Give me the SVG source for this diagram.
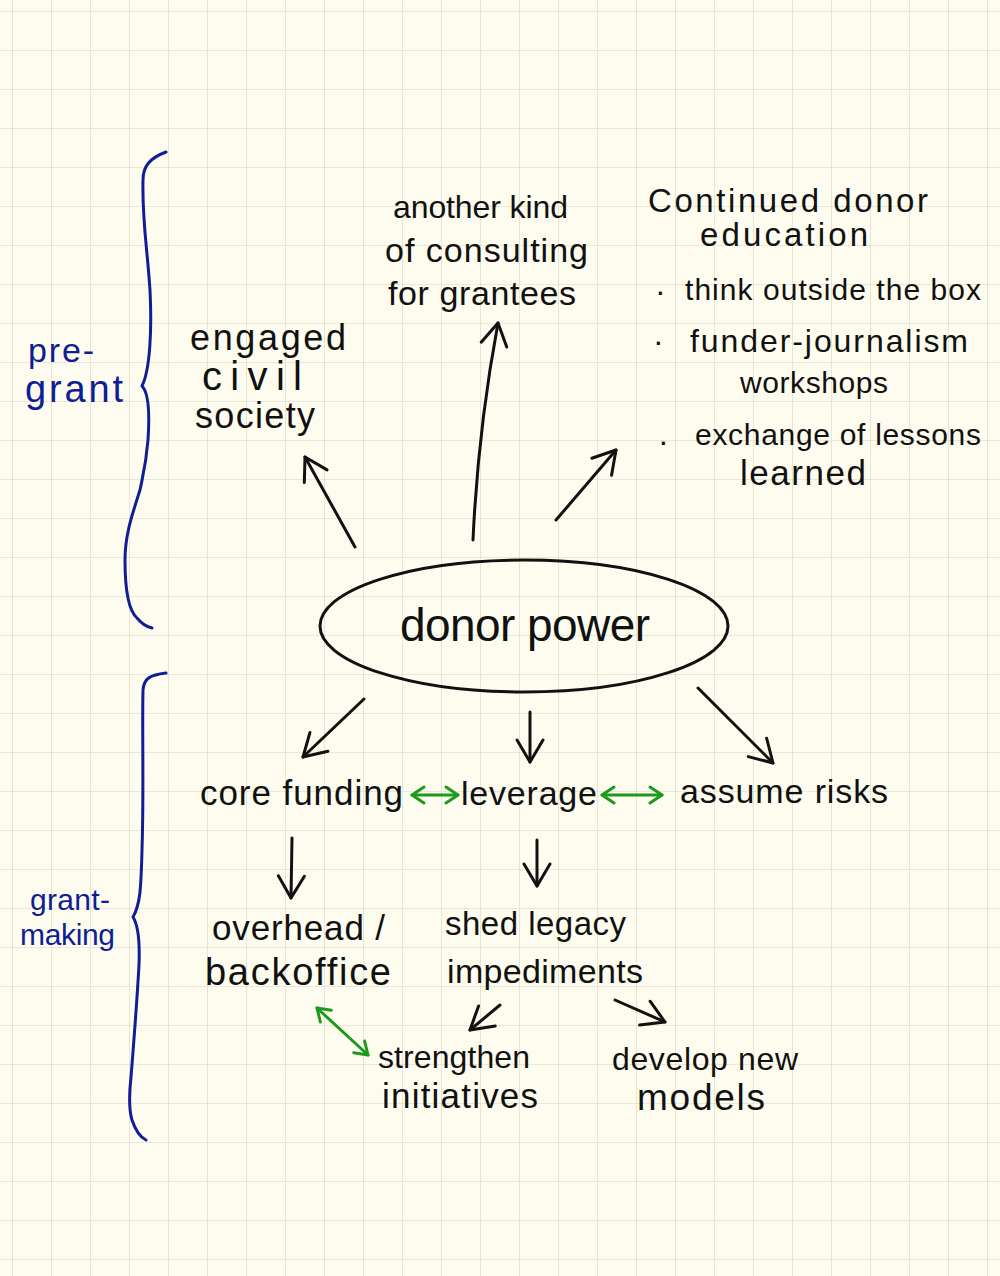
<svg xmlns="http://www.w3.org/2000/svg" width="1000" height="1276" viewBox="0 0 1000 1276">
<style>
.t{font-family:"Liberation Sans","DejaVu Sans",sans-serif;font-size:32px;fill:#111;}
.s{font-size:30px;}
.b{font-family:"Liberation Sans","DejaVu Sans",sans-serif;font-size:30px;fill:#0f1d96;}
.ln{fill:none;stroke:#111;stroke-width:3;stroke-linecap:round;stroke-linejoin:round;}
.gr{fill:none;stroke:#1d9a1d;stroke-width:3;stroke-linecap:round;stroke-linejoin:round;}
.br{fill:none;stroke:#0f1d96;stroke-width:3;stroke-linecap:round;stroke-linejoin:round;}
</style>
<defs>
<pattern id="grid" x="12" y="11" width="39" height="39" patternUnits="userSpaceOnUse">
<path d="M0,0 H39 M0,0 V39" fill="none" stroke="#d8d6c4" stroke-width="1.2"/>
</pattern>
<marker id="ah" viewBox="0 0 30 30" refX="28" refY="15" markerWidth="30" markerHeight="30" markerUnits="userSpaceOnUse" orient="auto-start-reverse">
<path d="M6,2 L28,15 L6,28" fill="none" stroke="#111" stroke-width="3" stroke-linecap="round" stroke-linejoin="round"/>
</marker>
<marker id="gh" viewBox="0 0 20 20" refX="18" refY="10" markerWidth="20" markerHeight="20" markerUnits="userSpaceOnUse" orient="auto-start-reverse">
<path d="M6,2 L18,10 L6,18" fill="none" stroke="#1d9a1d" stroke-width="3" stroke-linecap="round" stroke-linejoin="round"/>
</marker>
</defs>
<rect width="1000" height="1276" fill="#fdfcee"/>
<rect width="1000" height="1276" fill="url(#grid)"/>

<g id="brace-pregrant">
<path class="br" d="M166,152 C150,158 143,166 143,180 C142,220 147,245 150,290 C152,330 150,370 142,386 C148,392 150,410 148,440 C146,465 143,475 140,490 C132,515 125,535 125,560 C125,590 128,610 137,618 C142,624 147,627 152,628"/>
<text class="b" x="28" y="362" textLength="66" style="font-size:34px">pre-</text>
<text class="b" x="25" y="402" textLength="98" style="font-size:38px">grant</text>
</g>

<g id="brace-grantmaking">
<path class="br" d="M166,673 C150,675 144,678 143,690 C142,730 144,790 142,850 C141,890 140,905 133,917 C138,925 140,940 139,965 C137,1000 134,1040 131,1077 C129,1095 129,1110 132,1120 C136,1132 140,1137 146,1140"/>
<text class="b" x="30" y="910" textLength="80">grant-</text>
<text class="b" x="20" y="945" textLength="95">making</text>
</g>

<g id="node-civil">
<text class="t" x="190" y="350" textLength="156" style="font-size:36px">engaged</text>
<text class="t" x="202" y="390" textLength="100" style="font-size:40px">civil</text>
<text class="t" x="195" y="428" textLength="120" style="font-size:36px">society</text>
</g>

<g id="node-consulting">
<text class="t" x="393" y="218" textLength="175">another kind</text>
<text class="t" x="385" y="262" textLength="203" style="font-size:34px">of consulting</text>
<text class="t" x="388" y="305" textLength="188" style="font-size:34px">for grantees</text>
</g>

<g id="node-education">
<text class="t" x="648" y="212" textLength="280" style="font-size:33px">Continued donor</text>
<text class="t" x="700" y="246" textLength="168" style="font-size:33px">education</text>
<text class="t" x="655" y="302">·</text>
<text class="t s" x="685" y="300" textLength="296">think outside the box</text>
<text class="t" x="653" y="352">·</text>
<text class="t" x="690" y="352" textLength="278">funder-journalism</text>
<text class="t s" x="740" y="393" textLength="148">workshops</text>
<text class="t" x="658" y="452">·</text>
<text class="t s" x="695" y="445" textLength="286">exchange of lessons</text>
<text class="t" x="740" y="485" textLength="126" style="font-size:35px">learned</text>
</g>

<g id="node-donorpower">
<ellipse cx="524" cy="626" rx="204" ry="66" class="ln"/>
<text class="t" x="400" y="641" textLength="250" style="font-size:46px">donor power</text>
</g>

<g id="node-corefunding">
<text class="t" x="200" y="805" textLength="203" style="font-size:35px">core funding</text>
</g>
<g id="node-leverage">
<text class="t" x="461" y="805" textLength="136" style="font-size:34px">leverage</text>
</g>
<g id="node-risks">
<text class="t" x="680" y="803" textLength="208" style="font-size:34px">assume risks</text>
</g>
<g id="node-overhead">
<text class="t" x="212" y="940" textLength="173" style="font-size:35px">overhead /</text>
<text class="t" x="205" y="985" textLength="186" style="font-size:38px">backoffice</text>
</g>
<g id="node-legacy">
<text class="t" x="445" y="935" textLength="181" style="font-size:33px">shed legacy</text>
<text class="t" x="447" y="983" textLength="196" style="font-size:34px">impediments</text>
</g>
<g id="node-strengthen">
<text class="t" x="378" y="1068" textLength="152">strengthen</text>
<text class="t" x="382" y="1108" textLength="156" style="font-size:35px">initiatives</text>
</g>
<g id="node-models">
<text class="t" x="612" y="1070" textLength="186">develop new</text>
<text class="t" x="637" y="1110" textLength="128" style="font-size:37px">models</text>
</g>

<g id="connectors">
<path class="ln" d="M355,547 L305,457" marker-end="url(#ah)"/>
<path class="ln" d="M473,540 Q478,430 498,323" marker-end="url(#ah)"/>
<path class="ln" d="M556,520 L616,450" marker-end="url(#ah)"/>
<path class="ln" d="M364,699 L303,757" marker-end="url(#ah)"/>
<path class="ln" d="M530,712 L530,762" marker-end="url(#ah)"/>
<path class="ln" d="M698,688 L773,763" marker-end="url(#ah)"/>
<path class="ln" d="M292,838 L291,898" marker-end="url(#ah)"/>
<path class="ln" d="M537,840 L537,886" marker-end="url(#ah)"/>
<path class="ln" d="M500,1005 L470,1030" marker-end="url(#ah)"/>
<path class="ln" d="M615,1000 L665,1022" marker-end="url(#ah)"/>
<path class="gr" d="M412,795 L458,795" marker-start="url(#gh)" marker-end="url(#gh)"/>
<path class="gr" d="M602,795 L662,795" marker-start="url(#gh)" marker-end="url(#gh)"/>
<path class="gr" d="M317,1008 L368,1055" marker-start="url(#gh)" marker-end="url(#gh)"/>
</g>
</svg>
